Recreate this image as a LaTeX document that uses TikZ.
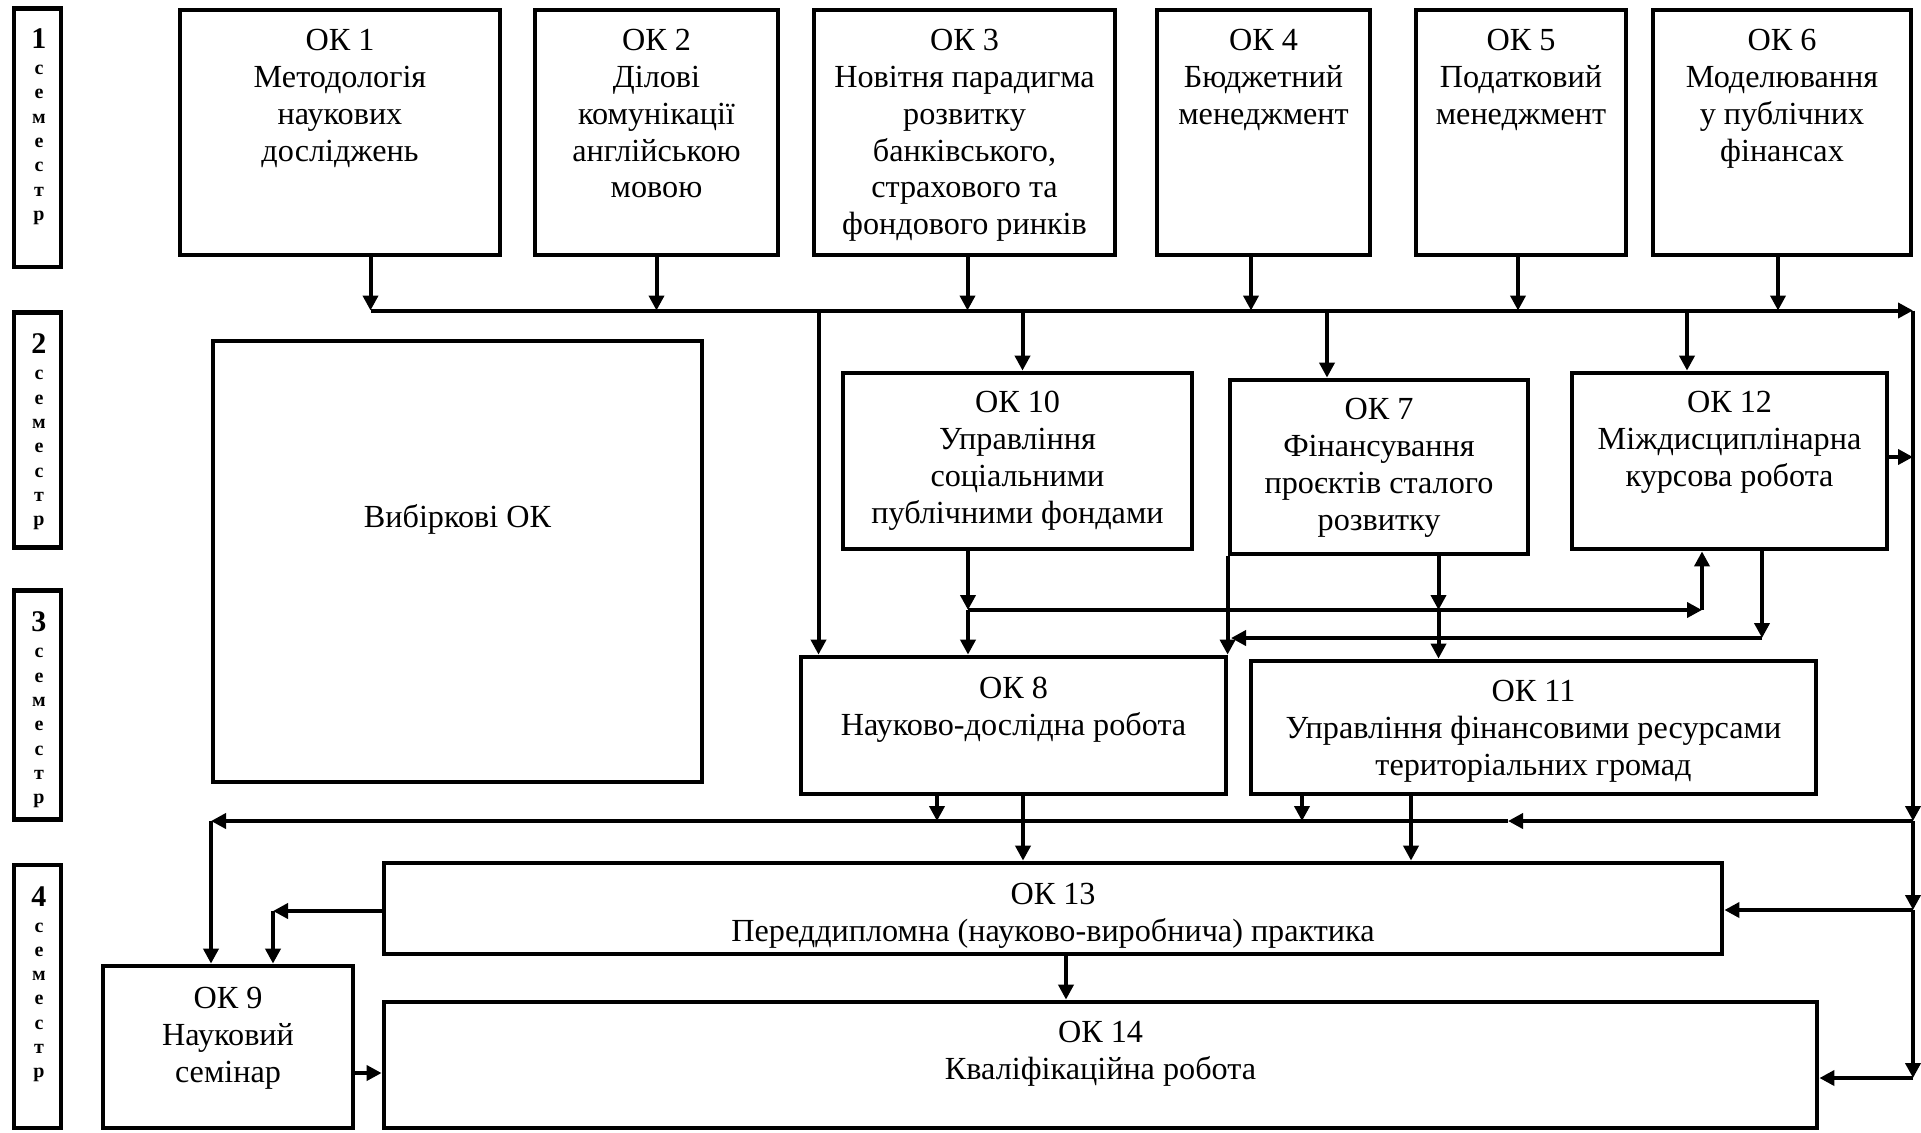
\documentclass[tikz,border=0pt]{standalone}
\usepackage{fontspec}
\setmainfont{Liberation Serif}
\usetikzlibrary{arrows.meta}
\begin{document}
\begin{tikzpicture}[x=0.5pt,y=-0.5pt,
  box/.style={draw, line width=2.4pt, inner sep=0pt},
  lbl/.style={anchor=north, align=center, inner sep=0pt, font=\fontsize{16.1}{18.4}\selectfont},
  con/.style={line width=2pt},
  arr/.style={con, -{Triangle[length=7.5pt,width=7.5pt]}},
  semd/.style={anchor=base, inner sep=0pt, font=\fontsize{15}{15}\selectfont\bfseries},
  seml/.style={anchor=base, inner sep=0pt, font=\fontsize{10}{10}\selectfont\bfseries}]
\fill[white] (0,0) rectangle (1921,1132);
\useasboundingbox (0,0) rectangle (1921,1132);

% semester boxes
\foreach \i/\cy/\h/\db in {1/137.75/129.25/48.5, 2/430.25/117.5/353.8, 3/704.85/114.5/631.8, 4/996.5/131.5/906}{
  \node[box, minimum width=23.5pt, minimum height=\h pt] (s\i) at (37.5,\cy) {};
  \node[semd] (s\i-d) at (39,\db) {\i};
  \foreach \c [count=\k from 0] in {с,е,м,е,с,т,р}
    \node[seml] (s\i-l\k) at (39,\db+26+\k*24.3) {\c};
}

% row 1
\node[box, minimum width=160pt,   minimum height=122.5pt] (ok1) at (340,132.5) {};
\node[box, minimum width=121.5pt, minimum height=122.5pt] (ok2) at (656.5,132.5) {};
\node[box, minimum width=150.5pt, minimum height=122.5pt] (ok3) at (964.5,132.5) {};
\node[box, minimum width=106.5pt, minimum height=122.5pt] (ok4) at (1263.5,132.5) {};
\node[box, minimum width=105pt,   minimum height=122.5pt] (ok5) at (1521,132.5) {};
\node[box, minimum width=129pt,   minimum height=122.5pt] (ok6) at (1782,132.5) {};
\node[lbl] (t1) at (340,29) {ОК 1\\Методологія\\наукових\\досліджень};
\node[lbl] (t2) at (656.5,29) {ОК 2\\Ділові\\комунікації\\англійською\\мовою};
\node[lbl] (t3) at (964.5,29) {ОК 3\\Новітня парадигма\\розвитку\\банківського,\\страхового та\\фондового ринків};
\node[lbl] (t4) at (1263.5,29) {ОК 4\\Бюджетний\\менеджмент};
\node[lbl] (t5) at (1521,29) {ОК 5\\Податковий\\менеджмент};
\node[lbl] (t6) at (1782,29) {ОК 6\\Моделювання\\у публічних\\фінансах};

% row 2
\node[box, minimum width=244.5pt, minimum height=220.5pt] (vib) at (457.5,561.5) {};
\node[anchor=base, inner sep=0pt, font=\fontsize{16.1}{18.4}\selectfont] (tv) at (457.5,527) {Вибіркові ОК};
\node[box, minimum width=174.5pt, minimum height=88pt] (ok10) at (1017.5,461) {};
\node[box, minimum width=149pt,   minimum height=87pt] (ok7)  at (1379,467) {};
\node[box, minimum width=157.5pt, minimum height=88pt] (ok12) at (1729.5,461) {};
\node[lbl] (t10) at (1017.5,391) {ОК 10\\Управління\\соціальними\\публічними фондами};
\node[lbl] (t7)  at (1379,398) {ОК 7\\Фінансування\\проєктів сталого\\розвитку};
\node[lbl] (t12) at (1729.5,391) {ОК 12\\Міждисциплінарна\\курсова робота};

% row 3
\node[box, minimum width=212.5pt, minimum height=68.5pt] (ok8)  at (1013.5,725.5) {};
\node[box, minimum width=282.5pt, minimum height=66.5pt] (ok11) at (1533.5,727.5) {};
\node[lbl] (t8)  at (1013.5,676.5) {ОК 8\\Науково-дослідна робота};
\node[lbl] (t11) at (1533.5,680) {ОК 11\\Управління фінансовими ресурсами\\територіальних громад};

% row 4
\node[box, minimum width=669pt,   minimum height=45.5pt] (ok13) at (1053,908.5) {};
\node[box, minimum width=125pt,   minimum height=81pt]   (ok9)  at (228,1047) {};
\node[box, minimum width=716.5pt, minimum height=63pt]   (ok14) at (1100.5,1065) {};
\node[lbl] (t13) at (1053,883) {ОК 13\\Переддипломна (науково-виробнича) практика};
\node[lbl] (t9)  at (228,987) {ОК 9\\Науковий\\семінар};
\node[lbl] (t14) at (1100.5,1020.5) {ОК 14\\Кваліфікаційна робота};

% top bus
\coordinate (b1) at (370.5,310.5);
\coordinate (b2) at (656.5,310.5);
\coordinate (b3) at (967.5,310.5);
\coordinate (b4) at (1251,310.5);
\coordinate (b5) at (1518,310.5);
\coordinate (b6) at (1778,310.5);
\coordinate (bR) at (1913,310.5);
\draw[arr] (b1) -- (bR);
\draw[arr] (ok1.south -| b1) -- (b1);
\draw[arr] (ok2.south -| b2) -- (b2);
\draw[arr] (ok3.south -| b3) -- (b3);
\draw[arr] (ok4.south -| b4) -- (b4);
\draw[arr] (ok5.south -| b5) -- (b5);
\draw[arr] (ok6.south -| b6) -- (b6);

% drops from bus
\coordinate (d8)  at (818.5,310.5);
\coordinate (d10) at (1022.5,310.5);
\coordinate (d7)  at (1327,310.5);
\coordinate (d12) at (1687,310.5);
\draw[arr] (d8)  -- (d8 |- ok8.north);
\draw[arr] (d10) -- (d10 |- ok10.north);
\draw[arr] (d7)  -- (d7 |- ok7.north);
\draw[arr] (d12) -- (d12 |- ok12.north);

% middle
\coordinate (j1) at (968,610);
\coordinate (j2) at (1702,610);
\coordinate (j3) at (1438.5,610);
\coordinate (j4) at (1762,638);
\coordinate (j5) at (1231,638);
\draw[arr] (j1 |- ok10.south) -- (j1);
\draw[arr] (j1) -- (j1 |- ok8.north);
\draw[arr] (j1) -- (j2);
\draw[arr] (j2) -- (j2 |- ok12.south);
\draw[arr] (j3 |- ok7.south) -- (j3);
\draw[arr] (j3) -- (j3 |- ok11.north);
\draw[arr] (j4 |- ok12.south) -- (j4);
\draw[arr] (j4) -- (j5);
\draw[arr] (ok7.south west) -- (ok7.south west |- ok8.north);

% right trunk
\coordinate (r12) at (1913,457);
\coordinate (r3)  at (1913,821);
\coordinate (r13) at (1913,910);
\coordinate (r14) at (1913,1078);
\draw[arr] (bR) -- (r3);
\draw[arr] (r3) -- (r13);
\draw[arr] (r13) -- (r14);
\draw[arr] (r12 -| ok12.east) -- (r12);
\draw[arr] (r13) -- (r13 -| ok13.east);
\draw[arr] (r14) -- (r14 -| ok14.east);

% lower bus
\coordinate (m3) at (1508,821);
\coordinate (c9) at (211,821);
\draw[arr] (r3) -- (m3);
\draw[arr] (m3) -- (c9);
\draw[arr] (c9) -- (c9 |- ok9.north);
\coordinate (e8)  at (937,821);
\coordinate (e11) at (1302,821);
\draw[arr] (e8 |- ok8.south) -- (e8);
\draw[arr] (e11 |- ok11.south) -- (e11);
\coordinate (f8)  at (1023,821);
\coordinate (f11) at (1411,821);
\draw[arr] (f8 |- ok8.south) -- (f8 |- ok13.north);
\draw[arr] (f11 |- ok11.south) -- (f11 |- ok13.north);

% bottom
\coordinate (c13) at (273,911);
\draw[arr] (c13 -| ok13.west) -- (c13);
\draw[arr] (c13) -- (c13 |- ok9.north);
\coordinate (g14) at (1066,980);
\draw[arr] (g14 |- ok13.south) -- (g14 |- ok14.north);
\coordinate (h9) at (368,1073);
\draw[arr] (h9 -| ok9.east) -- (h9 -| ok14.west);
\end{tikzpicture}
\end{document}
